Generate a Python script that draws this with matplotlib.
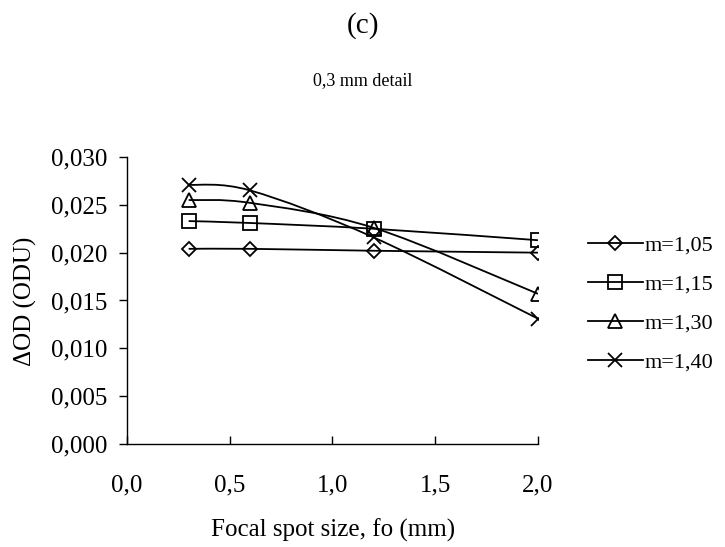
import matplotlib.pyplot as plt
import numpy as np
from matplotlib.path import Path
from matplotlib.patches import PathPatch
from matplotlib.lines import Line2D

plt.rcParams['font.family'] = ['Liberation Serif', 'DejaVu Serif']

# focal spot sizes (mm) and Delta OD for each magnification
focal_spot = [0.3, 0.6, 1.2, 2.0]
od_m105 = [0.0204, 0.0204, 0.0202, 0.0200]
od_m115 = [0.0233, 0.0231, 0.0225, 0.0213]
od_m130 = [0.0255, 0.0252, 0.0226, 0.0157]
od_m140 = [0.0271, 0.0265, 0.0216, 0.0131]
series_labels = ['m=1,05', 'm=1,15', 'm=1,30', 'm=1,40']

x_ticks = [0.0, 0.5, 1.0, 1.5, 2.0]
y_ticks = [0.000, 0.005, 0.010, 0.015, 0.020, 0.025, 0.030]


def smooth_path(xs, ys):
    # Catmull-Rom style cubic bezier through the points (spreadsheet "smoothed line")
    pts = np.column_stack([xs, ys])
    verts = [pts[0]]
    codes = [Path.MOVETO]
    n = len(pts)
    for i in range(n - 1):
        p0 = pts[i - 1] if i > 0 else pts[i]
        p1 = pts[i]
        p2 = pts[i + 1]
        p3 = pts[i + 2] if i + 2 < n else pts[i + 1]
        c1 = p1 + (p2 - p0) / 6.0
        c2 = p2 - (p3 - p1) / 6.0
        verts += [c1, c2, p2]
        codes += [Path.CURVE4] * 3
    return Path(verts, codes)


fig = plt.figure(figsize=(7.25, 5.47), dpi=100)
ax = fig.add_axes([0.1752, 0.1883, 0.742 - 0.1752, 0.713 - 0.1883])

styles = [('D', 7), ('s', 10), ('^', 10), ('x', 10)]
handles = []
for ys, (mk, ms), lab in zip([od_m105, od_m115, od_m130, od_m140], styles, series_labels):
    ax.add_patch(PathPatch(smooth_path(focal_spot, ys), facecolor='none',
                           edgecolor='black', lw=1.3))
    ax.plot(focal_spot, ys, linestyle='none', marker=mk, markersize=ms,
            markerfacecolor='none', markeredgecolor='black', markeredgewidth=1.3)
    handles.append(Line2D([], [], color='black', lw=1.3, marker=mk, markersize=ms,
                          markerfacecolor='none', markeredgecolor='black',
                          markeredgewidth=1.3, label=lab))

ax.set_xlim(0, 2.0)
ax.set_ylim(0, 0.030)
ax.set_xticks(x_ticks)
ax.set_yticks(y_ticks)
ax.set_xticklabels([f'{v:.1f}'.replace('.', ',') for v in x_ticks])
ax.set_yticklabels([f'{v:.3f}'.replace('.', ',') for v in y_ticks])
ax.spines['top'].set_visible(False)
ax.spines['right'].set_visible(False)
for s in ['left', 'bottom']:
    ax.spines[s].set_linewidth(1.0)
ax.tick_params(axis='y', direction='out', length=6, width=1.0, labelsize=18, pad=8)
ax.tick_params(axis='x', direction='in', length=6, width=1.0, labelsize=18, pad=22)

fig.text(0.5, 0.953, '(c)', ha='center', va='center', fontsize=21)
fig.text(0.5, 0.853, '0,3 mm detail', ha='center', va='center', fontsize=13)
fig.text(0.035, 0.45, '\u0394OD (ODU)', ha='center', va='center', rotation=90, fontsize=18)
fig.text(0.46, 0.03, 'Focal spot size, fo (mm)', ha='center', va='center', fontsize=18)

fig.legend(handles=handles, loc='center left', bbox_to_anchor=(0.799, 0.444),
           borderaxespad=0, frameon=False, fontsize=16, handlelength=2.45,
           handletextpad=0.1, labelspacing=0.83)

fig.savefig('out.png', dpi=100)
